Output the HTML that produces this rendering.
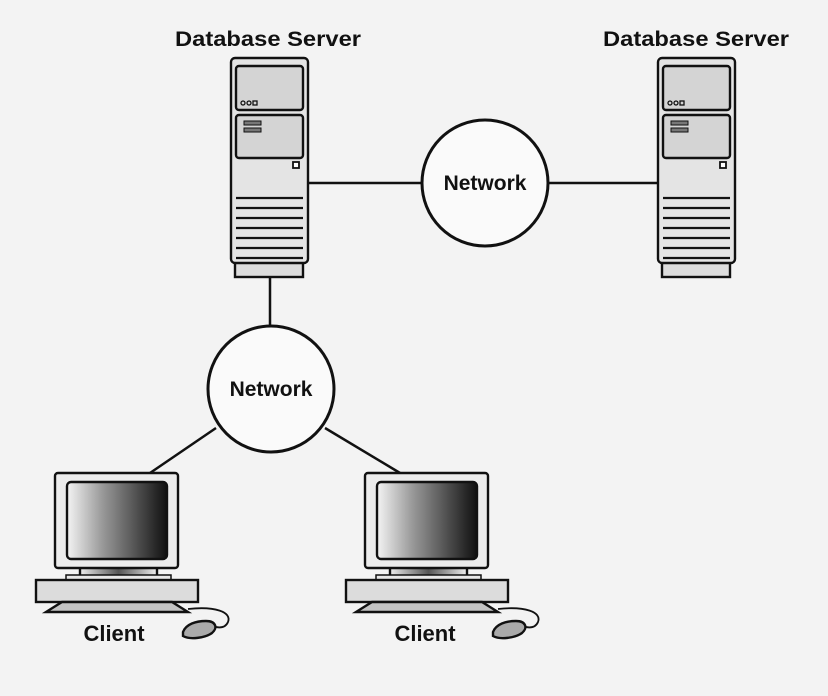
<!DOCTYPE html>
<html><head><meta charset="utf-8"><style>
html,body{margin:0;padding:0;background:#f3f3f3;}
svg{display:block}
text{font-family:"Liberation Sans",sans-serif;font-weight:bold;fill:#111}
</style></head><body>
<svg width="828" height="696" viewBox="0 0 828 696" xmlns="http://www.w3.org/2000/svg">
<defs>
<linearGradient id="scr" x1="0" x2="1" y1="0" y2="0">
<stop offset="0" stop-color="#f4f4f4"/><stop offset="0.35" stop-color="#9a9a9a"/><stop offset="1" stop-color="#101010"/>
</linearGradient>
<linearGradient id="neck" x1="0" x2="1"><stop offset="0" stop-color="#eee"/><stop offset="0.5" stop-color="#555"/><stop offset="1" stop-color="#eee"/></linearGradient>
<g id="server" stroke="#111" stroke-width="2.4">
<rect x="4" y="204" width="68" height="15" fill="#dcdcdc"/>
<rect x="0" y="0" width="77" height="205" rx="4" fill="#e4e4e4"/>
<rect x="5" y="8" width="67" height="44" rx="3" fill="#d4d4d4"/>
<rect x="5" y="57" width="67" height="43" rx="3" fill="#d4d4d4"/>
<g stroke-width="1.3" fill="none"><circle cx="12" cy="45" r="2"/><circle cx="18" cy="45" r="2"/><rect x="22" y="43" width="4" height="4"/></g>
<rect x="13" y="63" width="17" height="4" fill="#777" stroke-width="1"/>
<rect x="13" y="70" width="17" height="4" fill="#777" stroke-width="1"/>
<rect x="62" y="104" width="6" height="6" fill="#fff" stroke-width="1.8"/>
<g stroke-width="2.2"><line x1="5" y1="140" x2="72" y2="140"/><line x1="5" y1="150" x2="72" y2="150"/><line x1="5" y1="160" x2="72" y2="160"/><line x1="5" y1="170" x2="72" y2="170"/><line x1="5" y1="180" x2="72" y2="180"/><line x1="5" y1="190" x2="72" y2="190"/><line x1="5" y1="200" x2="72" y2="200"/></g>
</g>
<g id="client" stroke="#111" stroke-width="2.4">
<rect x="80" y="567" width="77" height="12" fill="url(#neck)"/>
<rect x="55" y="473" width="123" height="95" rx="3" fill="#ececec"/>
<rect x="67" y="482" width="100" height="77" rx="4" fill="url(#scr)"/>
<rect x="66" y="575" width="105" height="5" fill="#e8e8e8" stroke-width="1.5"/>
<rect x="36" y="580" width="162" height="22" fill="#dcdcdc"/>
<path d="M62 602 L172 602 L188 612 L46 612 Z" fill="#c4c4c4"/>
<path d="M188 609 C215 606 232 612 228 622 C225 629 218 628 212 626" fill="none" stroke-width="1.8"/>
<path d="M183 632 C186 624 196 621 206 621 C216 621 218 628 212 633 C205 638 190 640 183 636 Z" fill="#aaa"/>
</g>
</defs>
<rect width="828" height="696" fill="#f3f3f3"/>
<g stroke="#111" stroke-width="2.5" fill="none">
<line x1="308" y1="183" x2="422" y2="183"/>
<line x1="548" y1="183" x2="658" y2="183"/>
<line x1="270" y1="277" x2="270" y2="326"/>
<line x1="216" y1="428" x2="150" y2="473"/>
<line x1="325" y1="428" x2="400" y2="473"/>
</g>
<use href="#server" x="231" y="58"/>
<use href="#server" x="658" y="58"/>
<circle cx="485" cy="183" r="63" fill="#fafafa" stroke="#111" stroke-width="3"/>
<circle cx="271" cy="389" r="63" fill="#fafafa" stroke="#111" stroke-width="3"/>
<text x="485" y="190" font-size="21" text-anchor="middle">Network</text>
<text x="271" y="396" font-size="21" text-anchor="middle">Network</text>
<text x="268" y="46" font-size="21" text-anchor="middle" textLength="186" lengthAdjust="spacingAndGlyphs">Database Server</text>
<text x="696" y="46" font-size="21" text-anchor="middle" textLength="186" lengthAdjust="spacingAndGlyphs">Database Server</text>
<use href="#client"/>
<use href="#client" x="310"/>
<text x="114" y="641" font-size="22" text-anchor="middle">Client</text>
<text x="425" y="641" font-size="22" text-anchor="middle">Client</text>
</svg>
</body></html>
